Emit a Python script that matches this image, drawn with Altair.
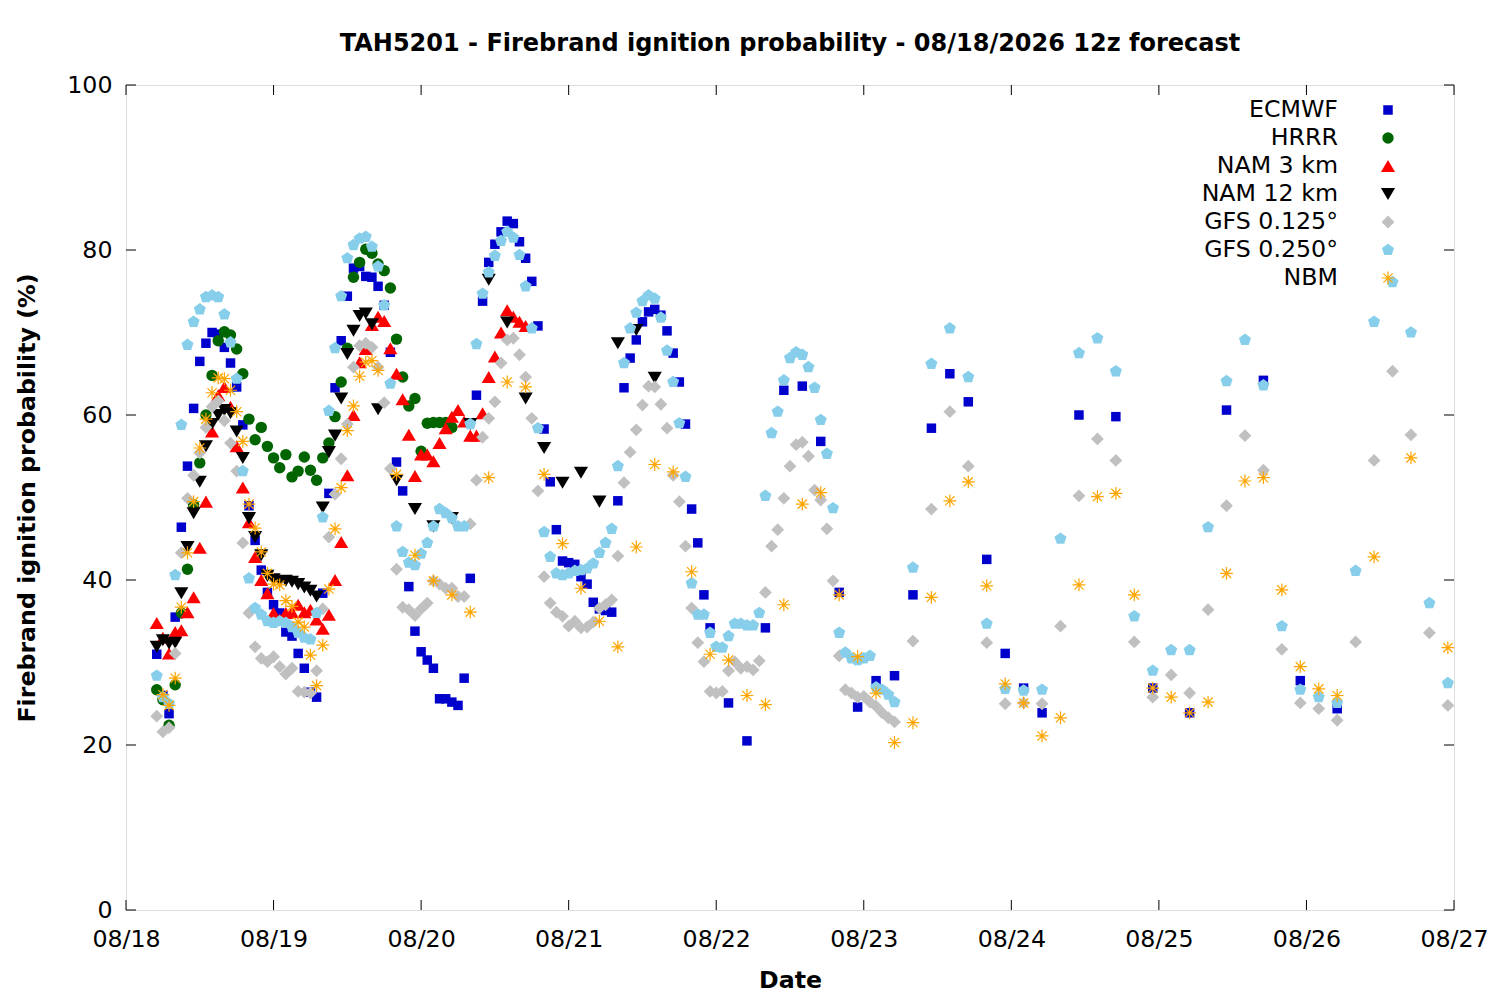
import json
import altair as alt
import pandas as pd

# ---------------- data (hours after 08/18 00, probability %) ----------------
SERIES = ["ECMWF", "HRRR", "NAM 3 km", "NAM 12 km", "GFS 0.125°", "GFS 0.250°", "NBM"]
COLORS = ["#0000cd", "#006400", "#ff0000", "#000000", "#c0c0c0", "#87ceeb", "#ffa500"]
DAY_LABELS = ["08/18", "08/19", "08/20", "08/21", "08/22", "08/23", "08/24", "08/25", "08/26", "08/27"]
Y_TICKS = [0, 20, 40, 60, 80, 100]

ecmwf_hours = list(range(5, 96)) + list(range(98, 150, 3)) + list(range(155, 198, 6))
ecmwf_vals = [
    31.0, 26.0, 23.8, 35.5, 46.4, 53.8, 60.8, 66.5, 68.7, 70.0, 69.8, 68.2, 66.3, 63.4, 58.8, 49.0,
    44.8, 41.2, 38.5, 37.0, 36.0, 33.7, 33.2, 31.1, 29.3, 26.4, 25.8, 38.4, 50.5, 63.3, 69.0, 74.4,
    77.8, 78.0, 76.8, 76.7, 75.6, 73.3, 67.6, 54.3, 50.8, 39.2, 33.8, 31.3, 30.3, 29.3, 25.6, 25.6,
    25.2, 24.8, 28.1, 40.2, 62.4, 73.8, 78.5, 80.7, 82.2, 83.5, 83.2, 81.0, 79.0, 76.2, 70.8, 58.3,
    51.9, 46.1, 42.3, 42.1, 41.9, 40.4, 39.5, 37.3, 36.5, 36.3, 36.1, 49.6, 63.3, 66.9, 69.1, 71.3,
    72.5, 72.8, 72.1, 70.2, 67.5, 64.0, 58.9, 48.6, 44.5, 38.2, 34.2,
    25.1, 20.5, 34.2, 63.0, 63.5, 56.8, 38.5, 24.6, 27.8, 28.4, 38.2, 58.4, 65.0, 61.6, 42.5, 31.1,
    26.9, 23.9,
    60.0, 59.8, 26.9, 23.9, 60.6, 64.2, 27.8, 24.4,
]

hrrr_hours = list(range(5, 54))
hrrr_vals = [
    26.7, 25.5, 22.4, 27.3, 36.0, 41.3, 49.1, 54.2, 60.0, 64.8, 69.0, 70.1, 69.7, 68.0, 65.0, 59.5,
    57.0, 58.5, 56.2, 54.8, 53.6, 55.2, 52.5, 53.2, 54.9, 53.3, 52.1, 54.8, 56.6, 59.8, 64.0, 68.1,
    76.7, 78.5, 80.1, 79.6, 78.3, 77.5, 75.4, 69.2, 64.6, 61.1, 62.0, 55.6, 59.0, 59.1, 59.1, 59.1,
    58.5,
]

nam3_hours = list(range(5, 66))
nam3_vals = [
    34.8, 33.0, 31.1, 33.7, 33.9, 36.1, 37.9, 43.9, 49.5, 58.0, 62.4, 63.4, 61.0, 56.2, 51.2, 47.0,
    42.8, 40.0, 38.4, 36.0, 35.2, 36.0, 36.1, 37.0, 36.1, 36.4, 35.2, 34.1, 35.8, 40.0, 44.6, 52.7,
    60.0, 66.4, 68.0, 70.9, 71.9, 71.4, 68.1, 65.0, 61.9, 57.6, 52.6, 55.2, 55.2, 54.4, 56.6, 58.4,
    59.8, 60.6, 59.2, 57.5, 57.5, 60.2, 64.6, 67.1, 70.0, 72.7, 71.9, 71.3, 70.8,
]

nam12_hours = list(range(5, 42)) + list(range(44, 87, 3))
nam12_vals = [
    31.9, 32.7, 32.3, 32.4, 38.4, 44.0, 48.1, 51.9, 56.2, 58.9, 60.0, 60.6, 60.2, 58.0, 54.8, 47.5,
    45.2, 43.0, 40.5, 40.1, 39.8, 39.9, 39.8, 39.5, 39.1, 38.7, 38.0, 48.8, 55.5, 57.5, 62.0, 67.4,
    70.2, 72.0, 72.3, 71.0, 60.7,
    52.1, 48.6, 46.5, 47.5, 58.9, 76.4, 71.2, 62.0, 56.0, 51.8, 53.0, 49.5, 68.7, 70.3, 64.5,
]

gfs125_hours = list(range(5, 126)) + list(range(128, 216, 3))
gfs125_vals = [
    23.5, 21.6, 22.1, 31.1, 43.3, 49.9, 52.7, 55.4, 58.5, 61.0, 61.7, 59.3, 56.6, 53.2, 44.5, 36.0,
    31.9, 30.5, 30.1, 30.7, 29.5, 28.6, 29.3, 26.5, 26.4, 26.3, 29.0, 36.5, 45.2, 50.4, 54.7, 58.9,
    65.8, 68.4, 68.7, 68.2, 65.8, 61.5, 53.5, 41.3, 36.7, 36.4, 35.7, 36.5, 37.2, 39.9, 39.5, 39.0,
    39.0, 38.0, 38.0, 46.8, 52.1, 57.3, 59.6, 61.6, 66.3, 69.1, 69.3, 67.3, 64.6, 59.6, 50.8, 40.4,
    37.2, 36.1, 35.6, 34.4, 35.0, 34.2, 34.3, 34.9, 36.6, 37.0, 37.6, 42.9, 51.8, 55.5, 58.2, 61.2,
    63.5, 63.4, 61.3, 58.4, 52.7, 49.5, 44.1, 36.6, 32.4, 30.1, 26.5, 26.3, 26.5, 29.0, 30.1, 29.3,
    29.5, 29.1, 30.2, 38.5, 44.1, 46.1, 49.9, 53.8, 56.4, 56.7, 55.0, 50.9, 49.7, 46.2, 39.9, 30.8,
    26.7, 26.3, 25.8, 25.9, 25.2, 24.7, 23.9, 23.3, 22.8,
    32.6, 48.6, 60.4, 53.8, 32.4, 25.0, 25.1, 25.0, 34.4, 50.2, 57.1, 54.5, 32.5, 25.8, 28.5, 26.3,
    36.4, 49.0, 57.5, 53.3, 31.6, 25.1, 24.4, 23.0, 32.5, 54.5, 65.3, 57.6, 33.6, 24.8,
]

gfs250_hours = list(range(5, 126)) + list(range(128, 216, 3))
gfs250_vals = [
    28.4, 25.8, 25.0, 40.6, 58.8, 68.5, 71.3, 72.8, 74.3, 74.5, 74.3, 72.2, 68.8, 64.4, 53.2, 40.2,
    36.6, 35.8, 35.0, 34.8, 35.0, 34.8, 34.3, 33.6, 33.0, 32.8, 36.0, 47.6, 60.5, 68.1, 74.4, 79.0,
    80.6, 81.4, 81.6, 80.4, 78.0, 73.3, 63.8, 46.5, 43.4, 42.1, 41.8, 43.2, 44.5, 46.5, 48.6, 48.1,
    47.5, 46.5, 46.5, 58.9, 68.6, 74.7, 77.3, 79.3, 81.1, 82.2, 81.5, 79.4, 75.6, 70.5, 58.4, 45.8,
    42.8, 40.8, 40.6, 40.8, 41.1, 41.2, 41.4, 42.0, 43.3, 44.5, 46.2, 53.8, 66.3, 70.5, 72.4, 73.8,
    74.5, 74.1, 71.8, 67.8, 64.0, 59.0, 52.5, 39.6, 35.8, 35.8, 33.6, 31.9, 31.8, 33.2, 34.7, 34.7,
    34.5, 34.5, 36.0, 50.2, 57.8, 60.4, 64.2, 66.9, 67.6, 67.3, 65.8, 63.3, 59.4, 55.3, 48.7, 33.6,
    31.2, 30.5, 30.3, 30.5, 30.8, 27.0, 26.7, 26.1, 25.2,
    41.5, 66.2, 70.5, 64.6, 34.7, 26.8, 26.6, 26.7, 45.0, 67.5, 69.3, 65.3, 35.6, 29.0, 31.5, 31.5,
    46.4, 64.1, 69.1, 63.6, 34.4, 26.7, 25.8, 25.1, 41.1, 71.3, 76.1, 70.0, 37.2, 27.5,
]

nbm_hours = list(range(6, 42)) + list(range(44, 198, 3)) + [203, 209, 215]
nbm_vals = [
    26.1, 24.8, 28.1, 36.7, 43.3, 49.5, 56.0, 59.5, 62.7, 64.5, 64.4, 63.0, 60.4, 56.8, 49.2, 46.3,
    43.4, 40.8, 39.5, 39.4, 37.5, 36.8, 34.9, 34.3, 30.9, 27.2, 32.1, 38.9, 46.2, 51.2, 58.1, 61.1,
    64.7, 66.4, 66.6, 65.4,
    52.8, 43.0, 39.9, 38.2, 36.1, 52.4, 64.0, 63.4, 52.8, 44.4, 39.0, 35.0, 31.9, 44.0, 54.0, 53.1,
    41.0, 31.0, 30.3, 26.0, 24.9, 37.0, 49.2, 50.6, 38.2, 30.7, 26.3, 20.3, 22.7, 37.9, 49.6, 51.9,
    39.3, 27.4, 25.1, 21.1, 23.3, 39.4, 50.1, 50.5, 38.2, 26.9, 25.8, 23.9, 25.2, 40.8, 52.0, 52.4,
    38.8, 29.5, 26.8, 26.0,
    42.8, 54.8, 31.8,
]

# ---------------- table ----------------
all_series = [
    (ecmwf_hours, ecmwf_vals), (hrrr_hours, hrrr_vals), (nam3_hours, nam3_vals),
    (nam12_hours, nam12_vals), (gfs125_hours, gfs125_vals), (gfs250_hours, gfs250_vals),
    (nbm_hours, nbm_vals),
]
rows = []
for k, (hh, vv) in enumerate(all_series):
    n = min(len(hh), len(vv))
    for h, v in zip(hh[:n], vv[:n]):
        rows.append({"series": SERIES[k], "seq": k, "hour": h, "value": v})
df = pd.DataFrame(rows)

# ---------------- styling ----------------
FONT = "DejaVu Sans"
FS = 23.7
W, H = 1328, 825
TRI_UP = "M0,-0.85L1,0.85L-1,0.85Z"
TRI_DOWN = "M0,0.85L1,-0.85L-1,-0.85Z"
DIAMOND = "M0,-1L1,0L0,1L-1,0Z"
PENTAGON = "M0,-1L0.951,-0.309L0.588,0.809L-0.588,0.809L-0.951,-0.309Z"
ASTERISK = "M-1,0L1,0M0,-1L0,1M-0.72,-0.72L0.72,0.72M-0.72,0.72L0.72,-0.72"
SHAPES = ["square", "circle", TRI_UP, TRI_DOWN, DIAMOND, PENTAGON, ASTERISK]
SIZES = [90, 130, 200, 200, 165, 160, 165]

color_enc = alt.Color("series:N", scale=alt.Scale(domain=SERIES, range=COLORS), legend=None)
shape_enc = alt.Shape("series:N", scale=alt.Scale(domain=SERIES, range=SHAPES), legend=None)
size_enc = alt.Size("series:N", scale=alt.Scale(type="ordinal", domain=SERIES, range=SIZES),
                    legend=None)

label_expr = "%s[round(datum.value/24)]" % json.dumps(DAY_LABELS)

x_enc = alt.X(
    "hour:Q",
    scale=alt.Scale(domain=[0, 216], nice=False, zero=False),
    axis=alt.Axis(
        values=list(range(0, 217, 24)), labelExpr=label_expr, title="Date",
        grid=False, ticks=False, domain=False, labelPadding=17,
        labelFontSize=FS, labelFont=FONT, labelColor="black", labelFlush=False, labelOverlap=False,
        titleFontSize=FS, titleFont=FONT, titleFontWeight="bold", titleColor="black",
        titleX=W / 2, titleY=70, titleBaseline="middle", titleAlign="center",
    ),
)
y_enc = alt.Y(
    "value:Q",
    scale=alt.Scale(domain=[0, 100], nice=False),
    axis=alt.Axis(
        values=Y_TICKS, title="Firebrand ignition probability (%)",
        grid=False, ticks=False, domain=False, labelPadding=14,
        labelFontSize=FS, labelFont=FONT, labelColor="black", labelFlush=False,
        titleFontSize=FS, titleFont=FONT, titleFontWeight="bold", titleColor="black",
        titleX=-99, titleY=H / 2, titleBaseline="middle", titleAlign="center", titleAngle=270,
    ),
)

base = alt.Chart(df)
filled = base.transform_filter(alt.datum.series != "NBM").mark_point(
    filled=True, opacity=1, strokeWidth=0
).encode(x=x_enc, y=y_enc, color=color_enc, shape=shape_enc, size=size_enc,
         order=alt.Order("seq:Q"))
nbm = base.transform_filter(alt.datum.series == "NBM").mark_point(
    filled=False, opacity=1, strokeWidth=1.2
).encode(x="hour:Q", y="value:Q", color=color_enc, shape=shape_enc, size=size_enc)

# inward ticks on all four sides (gnuplot style border)
ydf = pd.DataFrame({"t": Y_TICKS})
xdf = pd.DataFrame({"t": list(range(0, 217, 24))})
tk = 10
yt_l = alt.Chart(ydf).mark_rule(color="black", strokeWidth=1).encode(
    y=alt.Y("t:Q"), x=alt.value(0), x2=alt.value(tk))
yt_r = alt.Chart(ydf).mark_rule(color="black", strokeWidth=1).encode(
    y=alt.Y("t:Q"), x=alt.value(W - tk), x2=alt.value(W))
xt_b = alt.Chart(xdf).mark_rule(color="black", strokeWidth=1).encode(
    x=alt.X("t:Q"), y=alt.value(H), y2=alt.value(H - tk))
xt_t = alt.Chart(xdf).mark_rule(color="black", strokeWidth=1).encode(
    x=alt.X("t:Q"), y=alt.value(0), y2=alt.value(tk))

# key (gnuplot style: right-aligned text, symbol to the right)
leg_df = pd.DataFrame({"series": SERIES, "row": list(range(len(SERIES)))})
leg_base = alt.Chart(leg_df).transform_calculate(py="25 + 28 * datum.row")
leg_text = leg_base.mark_text(align="right", baseline="middle", font=FONT, fontSize=FS,
                              color="black").encode(
    x=alt.value(1212), y=alt.Y("py:Q", scale=None, axis=None), text="series:N")
leg_sym = leg_base.transform_filter(alt.datum.series != "NBM").mark_point(
    filled=True, opacity=1, strokeWidth=0).encode(
    x=alt.value(1262), y=alt.Y("py:Q", scale=None, axis=None),
    color=color_enc, shape=shape_enc, size=size_enc)
leg_nbm = leg_base.transform_filter(alt.datum.series == "NBM").mark_point(
    filled=False, opacity=1, strokeWidth=1.2).encode(
    x=alt.value(1262), y=alt.Y("py:Q", scale=None, axis=None),
    color=color_enc, shape=shape_enc, size=size_enc)

chart = alt.layer(
    filled, nbm, yt_l, yt_r, xt_b, xt_t, leg_text, leg_sym, leg_nbm
).properties(
    width=W, height=H,
    title=alt.Title("TAH5201 - Firebrand ignition probability - 08/18/2026 12z forecast",
                    font=FONT, fontSize=24, fontWeight="bold", color="black",
                    anchor="middle", baseline="bottom", frame="group", offset=-7),
    autosize=alt.AutoSizeParams(type="none"),
    padding={"left": 118, "top": 77, "right": 38, "bottom": 82},
).configure_view(stroke="black", strokeWidth=1).configure(font=FONT, background="white")

chart.save("out.html", embed_options={"renderer": "svg", "actions": False})
